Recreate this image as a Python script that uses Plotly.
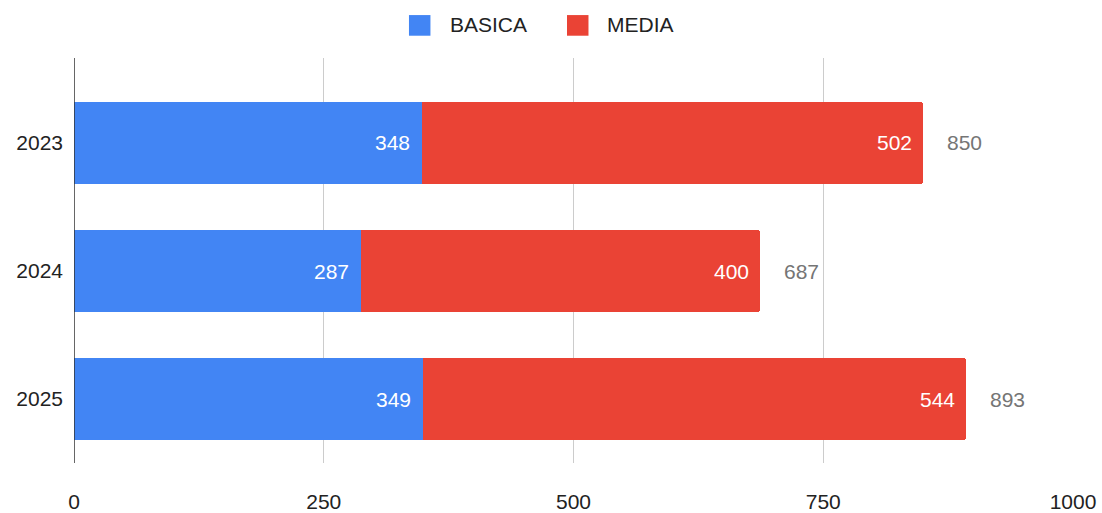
import plotly.graph_objects as go

years = ["2023", "2024", "2025"]
basica = [348, 287, 349]
media = [502, 400, 544]
totals = [b + m for b, m in zip(basica, media)]
x_ticks = [0, 250, 500, 750, 1000]

BLUE = "#4285F4"
RED = "#EA4335"
FONT = "Liberation Sans, Arial, sans-serif"
FS = 21

fig = go.Figure()
fig.add_trace(go.Bar(y=years, x=basica, name="BASICA", orientation="h",
                     marker=dict(color=BLUE, line=dict(width=0))))
fig.add_trace(go.Bar(y=years, x=media, name="MEDIA", orientation="h",
                     marker=dict(color=RED, line=dict(width=0))))

annotations = []
for i, (b, m, t) in enumerate(zip(basica, media, totals)):
    annotations.append(dict(x=b, y=i, text=str(b), xanchor="right", xshift=-10,
                            showarrow=False, font=dict(color="white", size=FS, family=FONT)))
    annotations.append(dict(x=b + m, y=i, text=str(m), xanchor="right", xshift=-9,
                            showarrow=False, font=dict(color="white", size=FS, family=FONT)))
    annotations.append(dict(x=t, y=i, text=str(t), xanchor="left", xshift=22,
                            showarrow=False, font=dict(color="#757575", size=FS, family=FONT)))

# custom legend (larger swatches like the reference)
shapes = [dict(type="line", xref="x", yref="paper", x0=0, x1=0, y0=0, y1=1,
               line=dict(color="#333333", width=1.5))]
legend_items = [("BASICA", BLUE, 0.3353, 0.3744), ("MEDIA", RED, 0.4935, 0.5315)]
for name, col, sx, tx in legend_items:
    shapes.append(dict(type="rect", xref="paper", yref="paper", x0=sx, x1=sx + 0.0215,
                       y0=1.055, y1=1.106, fillcolor=col, line=dict(width=0)))
    annotations.append(dict(x=tx, y=1.0815, xref="paper", yref="paper", text=name,
                            xanchor="left", yanchor="middle", showarrow=False,
                            font=dict(color="#222222", size=FS, family=FONT)))

fig.update_layout(
    width=1102, height=513,
    barmode="stack", bargap=0.36, barcornerradius=3,
    plot_bgcolor="white", paper_bgcolor="white",
    margin=dict(l=74, r=29, t=58, b=50, autoexpand=False),
    font=dict(family=FONT, size=FS, color="#222222"),
    showlegend=False,
    annotations=annotations,
    shapes=shapes,
    xaxis=dict(range=[0, 1000], tickvals=x_ticks, showgrid=True, gridcolor="#cccccc",
               gridwidth=1, zeroline=False, showline=False, ticks="", automargin=False,
               tickfont=dict(size=FS, color="#222222"), ticklabelstandoff=24),
    yaxis=dict(type="category", range=[2.5, -0.664], showgrid=False, zeroline=False,
               showline=False, ticks="", automargin=False,
               tickfont=dict(size=FS, color="#222222"), ticklabelstandoff=10),
)

fig.write_html("out.html", config={"displayModeBar": False},
               post_script="document.body.style.margin='0';document.body.style.overflow='hidden';")
